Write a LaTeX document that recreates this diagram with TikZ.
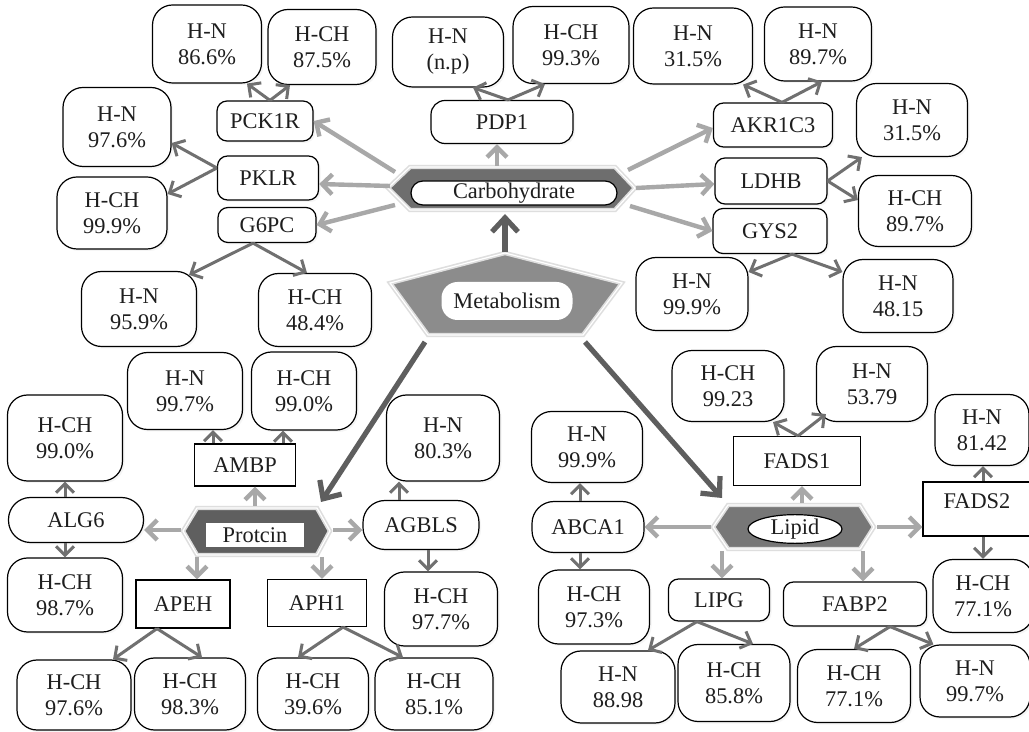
\documentclass[tikz,border=0pt]{standalone}
\usepackage{fontspec}
\setmainfont{Liberation Serif}
\usetikzlibrary{arrows.meta,shadows,shapes.geometric}
\definecolor{lightarr}{HTML}{A8A8A8}
\definecolor{midarr}{HTML}{707070}
\definecolor{bigarr}{HTML}{5E5E5E}
\definecolor{hexC}{HTML}{6E6E6E}
\definecolor{hexP}{HTML}{5F5F5F}
\definecolor{hexL}{HTML}{777777}
\definecolor{pent}{HTML}{8C8C8C}
\definecolor{halo}{HTML}{DEDEDE}
\definecolor{txt}{HTML}{1E1E1E}
\begin{document}
\begin{tikzpicture}[x=0.5pt,y=-0.5pt,
  every node/.style={font=\fontsize{11.2}{13}\selectfont, align=center, inner sep=0pt, text=txt},
  sz/.style 2 args={minimum width=#1*0.5pt, minimum height=#2*0.5pt},
  shad/.style={drop shadow={opacity=0.08, shadow xshift=1pt, shadow yshift=-1pt}},
  res/.style={draw, line width=0.6pt, fill=white, rounded corners=10pt, shad},
  generc/.style={draw, line width=0.6pt, fill=white, rounded corners=5pt, shad},
  genesq/.style={draw, line width=0.6pt, fill=white},
  genepill/.style={draw, line width=0.6pt, fill=white, rounded corners=11pt, shad},
  hexa/.style={draw=halo, line width=2.2pt, line join=miter},
  hexin/.style={draw=white, line width=0.6pt},
  light/.style={draw=lightarr, line width=2.2pt, -{Straight Barb[length=5pt,width=10pt]}},
  mid/.style={draw=midarr, line width=1.5pt, -{Straight Barb[length=4.5pt,width=9pt]}},
  big/.style={draw=bigarr, line width=2.6pt, -{Straight Barb[length=7pt,width=13pt]}},
]
\useasboundingbox (0,0) rectangle (1029,732);
\fill[white] (0,0) rectangle (1029,732);

% ---------- central shapes ----------
\filldraw[hexa, fill=pent] (505,253) -- (622,283) -- (583,335) -- (428,335) -- (390,283) -- cycle;
\draw[hexin] (505,253) -- (622,283) -- (583,335) -- (428,335) -- (390,283) -- cycle;
\node[fill=white, rounded corners=8pt, sz={131}{38}] (meta) at (507,301) {Metabolism};

\filldraw[hexa, fill=hexC] (388,188) -- (410,167) -- (615,167) -- (635,188) -- (615,210) -- (410,210) -- cycle;
\draw[hexin] (388,188) -- (410,167) -- (615,167) -- (635,188) -- (615,210) -- (410,210) -- cycle;
\node[draw, line width=0.6pt, fill=white, rounded corners=6pt, sz={206}{24}] (carb) at (514,193) {Carbohydrate};

\filldraw[hexa, fill=hexP] (183,531) -- (197,508) -- (317,508) -- (330,531) -- (317,555) -- (197,555) -- cycle;
\draw[hexin] (183,531) -- (197,508) -- (317,508) -- (330,531) -- (317,555) -- (197,555) -- cycle;
\node[fill=white, sz={98}{24}] (prot) at (255,535) {Protcin};

\filldraw[hexa, fill=hexL] (713,527) -- (728,505) -- (860,505) -- (874,527) -- (860,549) -- (728,549) -- cycle;
\draw[hexin] (713,527) -- (728,505) -- (860,505) -- (874,527) -- (860,549) -- (728,549) -- cycle;
\node[draw, line width=0.6pt, fill=white, ellipse, sz={94}{24}] (lip) at (795,529) {Lipid};

% connector end points on the shapes
\coordinate (mtop) at (505,252);
\coordinate (cbot) at (505,214);
\coordinate (mbl) at (425,342);
\coordinate (mbr) at (585,342);
\coordinate (ctop) at (497,166);
\coordinate (cl1) at (395,172);
\coordinate (cl2) at (390,186);
\coordinate (cl3) at (395,205);
\coordinate (cr1) at (628,170);
\coordinate (cr2) at (636,188);
\coordinate (cr3) at (630,206);
\coordinate (ptop) at (255,506);
\coordinate (pleft) at (181,530);
\coordinate (pright) at (333,530);
\coordinate (pbl) at (197,557);
\coordinate (pbr) at (322,557);
\coordinate (ptip) at (321,502);
\coordinate (ltop) at (802,503);
\coordinate (lleft) at (711,527);
\coordinate (lright) at (877,527);
\coordinate (lbl) at (722,551);
\coordinate (lbr) at (863,551);
\coordinate (ltip) at (722,498);

% ---------- gene boxes ----------
\node[generc, sz={96}{40}] (pck) at (265,121) {PCK1R};
\node[generc, sz={101}{44}] (pklr) at (268,178) {PKLR};
\node[generc, sz={98}{35}] (g6pc) at (267,225) {G6PC};
\node[generc, rounded corners=7pt, sz={142}{43}] (pdp) at (502,122) {PDP1};
\node[generc, sz={119}{44}] (akr) at (773,125) {AKR1C3};
\node[generc, sz={112}{46}] (ldhb) at (771,181) {LDHB};
\node[generc, sz={114}{45}] (gys) at (770,231) {GYS2};
\node[genesq, sz={101}{42}] (ambp) at (245,465) {AMBP};
\node[genepill, sz={135}{45}] (alg) at (76,520) {ALG6};
\node[genepill, sz={116}{49}] (agb) at (421,525) {AGBLS};
\node[genesq, sz={94}{48}] (apeh) at (183,604) {APEH};
\node[genesq, sz={99}{47}] (aph) at (317,603) {APH1};
\node[genesq, sz={127}{49}] (fads1) at (797,461) {FADS1};
\node[genesq, sz={108}{54}, text depth=8pt] (fads2) at (977,509) {FADS2};
\node[genepill, sz={112}{51}] (abca) at (588,527) {ABCA1};
\node[generc, sz={101}{42}] (lipg) at (719,600) {LIPG};
\node[generc, sz={143}{44}] (fabp) at (855,604) {FABP2};

% ---------- result boxes ----------
\node[res, sz={109}{78}] (r1) at (207,44) {H-N\\86.6\%};
\node[res, sz={108}{75}] (r2) at (322,47) {H-CH\\87.5\%};
\node[res, sz={108}{79}] (r3) at (117,127) {H-N\\97.6\%};
\node[res, sz={110}{72}] (r4) at (112,213) {H-CH\\99.9\%};
\node[res, sz={115}{75}] (r5) at (139,309) {H-N\\95.9\%};
\node[res, sz={113}{73}] (r6) at (315,310) {H-CH\\48.4\%};
\node[res, sz={111}{70}] (r7) at (448,52) {H-N\\(n.p)};
\node[res, sz={116}{77}] (r8) at (571,45) {H-CH\\99.3\%};
\node[res, sz={119}{76}] (r9) at (693,46) {H-N\\31.5\%};
\node[res, sz={107}{74}] (r10) at (818,44) {H-N\\89.7\%};
\node[res, sz={111}{73}] (r11) at (912,120) {H-N\\31.5\%};
\node[res, sz={113}{71}] (r12) at (915,211) {H-CH\\89.7\%};
\node[res, sz={112}{73}] (r13) at (692,294) {H-N\\99.9\%};
\node[res, sz={110}{73}] (r14) at (898,296) {H-N\\48.15};
\node[res, sz={115}{77}] (r15) at (185,391) {H-N\\99.7\%};
\node[res, sz={105}{78}] (r16) at (304,391) {H-CH\\99.0\%};
\node[res, sz={115}{86}] (r17) at (65,438) {H-CH\\99.0\%};
\node[res, sz={113}{86}] (r18) at (443,438) {H-N\\80.3\%};
\node[res, sz={115}{74}] (r19) at (65,595) {H-CH\\98.7\%};
\node[res, sz={113}{74}] (r20) at (441,609) {H-CH\\97.7\%};
\node[res, sz={114}{70}] (r21) at (74,695) {H-CH\\97.6\%};
\node[res, sz={111}{72}] (r22) at (190,694) {H-CH\\98.3\%};
\node[res, sz={111}{72}] (r23) at (313,694) {H-CH\\39.6\%};
\node[res, sz={118}{72}] (r24) at (434,694) {H-CH\\85.1\%};
\node[res, sz={112}{71}] (r25) at (728,386) {H-CH\\99.23};
\node[res, sz={111}{75}] (r26) at (872,384) {H-N\\53.79};
\node[res, sz={94}{71}] (r27) at (982,430) {H-N\\81.42};
\node[res, sz={111}{71}] (r28) at (587,447) {H-N\\99.9\%};
\node[res, sz={111}{74}] (r29) at (594,607) {H-CH\\97.3\%};
\node[res, sz={100}{73}] (r30) at (983,596) {H-CH\\77.1\%};
\node[res, sz={114}{72}] (r31) at (618,687) {H-N\\88.98};
\node[res, sz={112}{77}] (r32) at (734,683) {H-CH\\85.8\%};
\node[res, sz={113}{73}] (r33) at (854,686) {H-CH\\77.1\%};
\node[res, sz={110}{72}] (r34) at (975,681) {H-N\\99.7\%};

% ---------- big arrows ----------
\draw[big] (mtop) -- (cbot);
\draw[big] (mbl) -- (ptip);
\draw[big] (mbr) -- (ltip);

% ---------- carbohydrate ----------
\draw[light] (ctop) -- (ctop |- pdp.south);
\draw[light] (cl1) -- (pck.east);
\draw[light] (cl2) -- ([yshift=-3pt]pklr.east);
\draw[light] (cl3) -- (g6pc.east);
\draw[light] (cr1) -- ([yshift=-1.5pt]akr.west);
\draw[light] (cr2) -- ([yshift=-1.5pt]ldhb.west);
\draw[light] (cr3) -- (gys.west);

\draw[mid] ([xshift=2.5pt]pck.north) -- ([xshift=20pt]r1.south);
\draw[mid] ([xshift=2.5pt]pck.north) -- ([xshift=-16pt]r2.south);
\draw[mid] ([yshift=5pt]pklr.west) -- ([yshift=-8pt]r3.east);
\draw[mid] ([yshift=5pt]pklr.west) -- ([yshift=9.5pt]r4.east);
\draw[mid] ([xshift=-7pt]g6pc.south) -- ([xshift=-4pt,yshift=-2pt]r5.north east);
\draw[mid] ([xshift=-7pt]g6pc.south) -- ([xshift=-4pt]r6.north);
\draw[mid] ([xshift=3pt]pdp.north) -- ([xshift=12.5pt]r7.south);
\draw[mid] ([xshift=3pt]pdp.north) -- ([xshift=-13pt]r8.south);
\draw[mid] ([xshift=4.5pt]akr.north) -- ([xshift=25pt]r9.south);
\draw[mid] ([xshift=4.5pt]akr.north) -- ([xshift=2pt]r10.south);
\draw[mid] (ldhb.east) -- ([xshift=3pt]r11.south west);
\draw[mid] (ldhb.east) -- ([yshift=5.5pt]r12.west);
\draw[mid] ([xshift=11pt]gys.south) -- ([yshift=11pt]r13.east);
\draw[mid] ([xshift=11pt]gys.south) -- ([yshift=12pt]r14.west);

% ---------- protein ----------
\draw[light] (ptop) -- (ptop |- ambp.south);
\draw[light] (pleft) -- (pleft -| alg.east);
\draw[light] (pright) -- (pright -| agb.west);
\draw[light] (pbl) -- (pbl |- apeh.north);
\draw[light] (pbr) -- (pbr |- aph.north);

\draw[mid] ([xshift=-16pt]ambp.north) -- ([xshift=-16pt]ambp.north |- r15.south);
\draw[mid] ([xshift=19pt]ambp.north) -- ([xshift=19pt]ambp.north |- r16.south);
\draw[mid] ([xshift=-5.5pt]alg.north) -- ([xshift=-5.5pt]alg.north |- r17.south);
\draw[mid] ([xshift=-5.5pt]alg.south) -- ([xshift=-5.5pt]alg.south |- r19.north);
\draw[mid] ([xshift=-11pt]agb.north) -- ([xshift=-11pt]agb.north |- r18.south);
\draw[mid] ([xshift=3.5pt]agb.south) -- ([xshift=3.5pt]agb.south |- r20.north);
\draw[mid] ([xshift=-13pt]apeh.south) -- ([xshift=19.5pt]r21.north);
\draw[mid] ([xshift=-13pt]apeh.south) -- ([xshift=6pt]r22.north);
\draw[mid] ([xshift=13pt]aph.south) -- ([xshift=-7.5pt]r23.north);
\draw[mid] ([xshift=13pt]aph.south) -- ([xshift=-15.5pt]r24.north);

% ---------- lipid ----------
\draw[light] (ltop) -- (ltop |- fads1.south);
\draw[light] (lleft) -- (lleft -| abca.east);
\draw[light] (lright) -- (lright -| fads2.west);
\draw[light] (lbl) -- (lbl |- lipg.north);
\draw[light] (lbr) -- (lbr |- fabp.north);

\draw[mid] ([xshift=0.5pt]fads1.north) -- ([xshift=22.5pt]r25.south);
\draw[mid] ([xshift=0.5pt]fads1.north) -- ([xshift=5pt,yshift=4pt]r26.south west);
\draw[mid] ([xshift=-4pt]abca.north) -- ([xshift=-4pt]abca.north |- r28.south);
\draw[mid] ([xshift=-4pt]abca.south) -- ([xshift=-4pt]abca.south |- r29.north);
\draw[mid] ([xshift=3pt]fads2.north) -- ([xshift=3pt]fads2.north |- r27.south);
\draw[mid] ([xshift=3pt]fads2.south) -- ([xshift=3pt]fads2.south |- r30.north);
\draw[mid] ([xshift=-11pt]lipg.south) -- ([xshift=15pt]r31.north);
\draw[mid] ([xshift=-11pt]lipg.south) -- ([xshift=9.5pt]r32.north);
\draw[mid] ([xshift=17.5pt]fabp.south) -- (r33.north);
\draw[mid] ([xshift=17.5pt]fabp.south) -- ([xshift=7pt]r34.north west);
\end{tikzpicture}
\end{document}
